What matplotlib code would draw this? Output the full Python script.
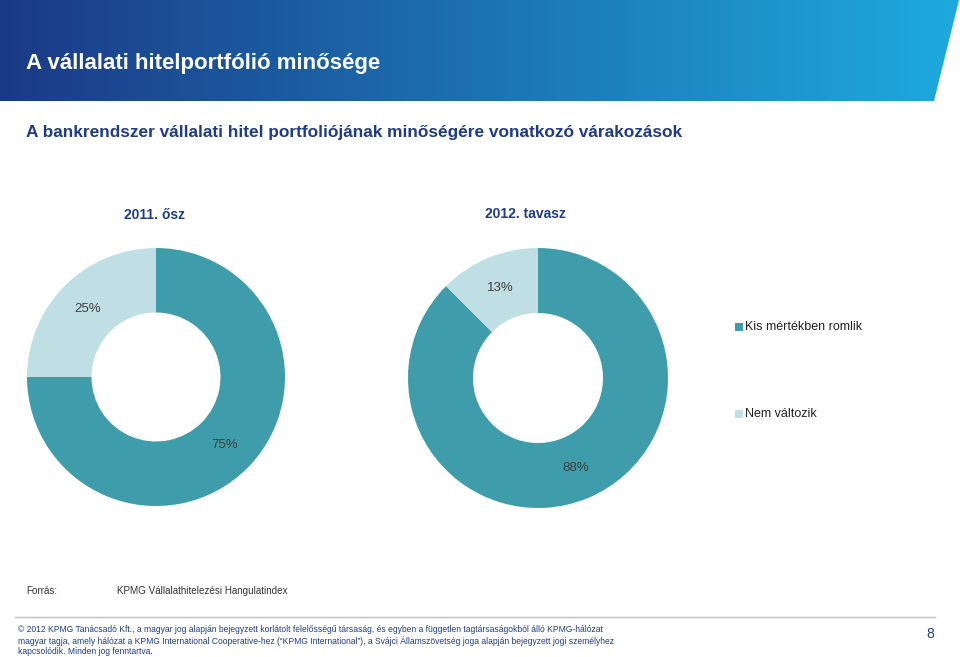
import numpy as np
import matplotlib.pyplot as plt
from matplotlib.patches import Polygon, Rectangle
from matplotlib.lines import Line2D

plt.rcParams['font.family'] = ['Liberation Sans', 'DejaVu Sans']

# data
categories = ["Kis mértékben romlik", "Nem változik"]
periods = ["2011. ősz", "2012. tavasz"]
values_2011 = [75, 25]
values_2012 = [87.5, 12.5]
labels_2011 = ["75%", "25%"]
labels_2012 = ["88%", "13%"]
colors = ["#3f9dab", "#c0dfe4"]

navy = "#1f3c84"
W, H = 960, 657

fig = plt.figure(figsize=(9.6, 6.57), dpi=100)
fig.patch.set_facecolor("white")

def fx(x):
    return x / W

def fy(y):
    return 1 - y / H

# banner with gradient
bax = fig.add_axes([0, 0, 1, 1], zorder=0)
bax.set_xlim(0, W)
bax.set_ylim(H, 0)
bax.axis("off")
left = np.array([27, 58, 134]) / 255
right = np.array([30, 170, 222]) / 255
t = np.linspace(0, 1, 256)
grad = left[None, :] * (1 - t[:, None]) + right[None, :] * t[:, None]
img = bax.imshow(grad[None, :, :], extent=[0, W, 101, 0], aspect="auto")
poly = Polygon([[0, 0], [959, 0], [934, 101], [0, 101]], closed=True,
               transform=bax.transData, facecolor="none", edgecolor="none")
bax.add_patch(poly)
img.set_clip_path(poly)
bax.set_xlim(0, W)
bax.set_ylim(H, 0)

fig.text(fx(26), fy(63), "A vállalati hitelportfólió minősége", color="white",
         fontsize=16, fontweight="bold", va="center", ha="left")
fig.text(fx(26), fy(133), "A bankrendszer vállalati hitel portfoliójának minőségére vonatkozó várakozások",
         color=navy, fontsize=12.4, fontweight="bold", va="center", ha="left")

# period labels
fig.text(fx(154), fy(215), periods[0], color=navy, fontsize=10, fontweight="bold",
         va="center", ha="center")
fig.text(fx(525), fy(214), periods[1], color=navy, fontsize=10, fontweight="bold",
         va="center", ha="center")

def donut(rect, vals, labs):
    ax = fig.add_axes(rect, zorder=2)
    ax.pie(vals, colors=colors, startangle=90, counterclock=False,
           radius=1, wedgeprops=dict(width=0.5, edgecolor="none"))
    total = sum(vals)
    start = 90
    for v, lab in zip(vals, labs):
        mid = np.deg2rad(start - v / total * 360 / 2)
        ax.text(0.75 * np.cos(mid), 0.75 * np.sin(mid), lab, ha="center",
                va="center", fontsize=9.5, color="#404040")
        start -= v / total * 360
    ax.set_xlim(-1, 1)
    ax.set_ylim(-1, 1)
    ax.set_aspect("equal")
    ax.axis("off")
    return ax

donut([fx(27), fy(506), 258 / W, 258 / H], values_2011, labels_2011)
donut([fx(408), fy(508), 260 / W, 260 / H], values_2012, labels_2012)

# legend
leg_y = [327, 414]
for c, lab, yy in zip(colors, categories, leg_y):
    bax.add_patch(Rectangle((735, yy - 4), 8, 8, facecolor=c, edgecolor="none"))
    fig.text(fx(745), fy(yy), lab, fontsize=9, color="#222222", va="center", ha="left")

# source
fig.text(fx(26), fy(591), "Forrás:", fontsize=7.1, color="#333333", va="center")
fig.text(fx(117), fy(591), "KPMG Vállalathitelezési Hangulatindex", fontsize=7.1,
         color="#333333", va="center")

# footer
bax.add_line(Line2D([15, 935], [617, 617], color="#c0c0c0", lw=1))
foot = ["© 2012 KPMG Tanácsadó Kft., a magyar jog alapján bejegyzett korlátolt felelősségű társaság, és egyben a független tagtársaságokból álló KPMG-hálózat",
        "magyar tagja, amely hálózat a KPMG International Cooperative-hez (\u201cKPMG International\u201d), a Svájci Államszövetség joga alapján bejegyzett jogi személyhez",
        "kapcsolódik. Minden jog fenntartva."]
for i, line in enumerate(foot):
    fig.text(fx(18), fy(630 + i * 11), line, fontsize=6.15, color=navy, va="center")
fig.text(fx(930), fy(634), "8", fontsize=10, color=navy, va="center", ha="center")

fig.savefig("out.png", dpi=100)
